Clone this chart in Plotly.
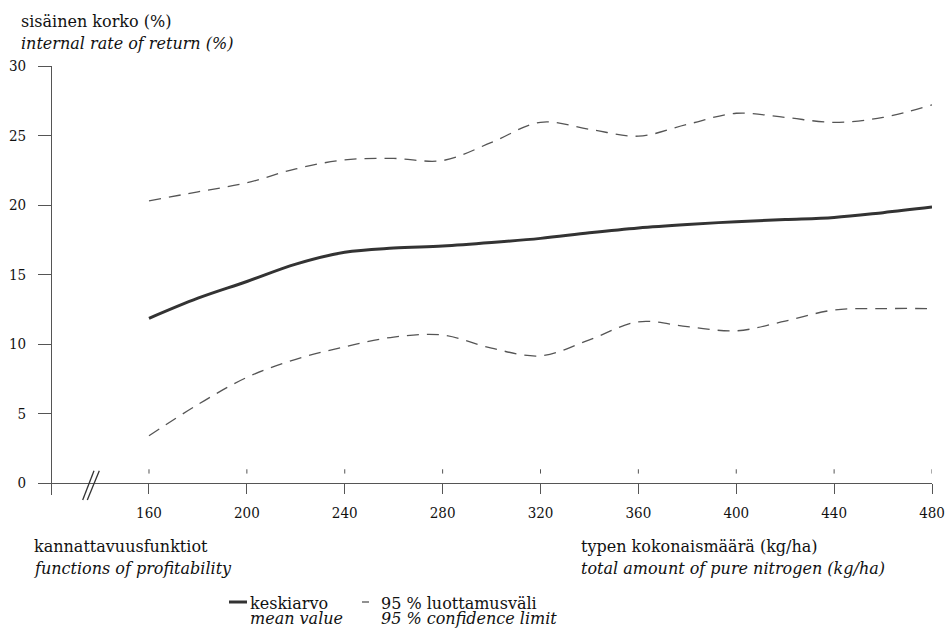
import plotly.graph_objects as go

# ---- data ----
nitrogen = [160, 180, 200, 220, 240, 260, 280, 300, 320, 340, 360, 380, 400, 420, 440, 460, 480]
mean_irr = [11.85, 13.3, 14.5, 15.75, 16.6, 16.9, 17.05, 17.3, 17.6, 18.0, 18.35, 18.6, 18.8, 18.95, 19.1, 19.45, 19.85]
upper_ci = [20.3, 20.95, 21.6, 22.6, 23.25, 23.35, 23.2, 24.5, 25.95, 25.45, 24.95, 25.8, 26.6, 26.3, 25.95, 26.3, 27.2]
lower_ci = [3.4, 5.65, 7.6, 8.9, 9.8, 10.5, 10.65, 9.7, 9.15, 10.3, 11.6, 11.25, 10.95, 11.65, 12.45, 12.55, 12.55]
x_ticks = [160, 200, 240, 280, 320, 360, 400, 440, 480]
y_ticks = [0, 5, 10, 15, 20, 25, 30]

# ---- layout geometry ----
W, H = 948, 630
ML, MR, MT, MB = 38, 16, 66, 135
PW, PH = W - ML - MR, H - MT - MB
XR = [114.64, 480]
YR = [-0.86, 30]

def px(xp):
    return (xp - ML) / PW

def py(yp):
    return (H - MB - yp) / PH

FONT = "DejaVu Serif"
TXT = "#111111"
AX = "#555555"

fig = go.Figure()
fig.add_trace(go.Scatter(x=nitrogen, y=upper_ci, mode="lines", line=dict(color="#555", width=1.3, dash="12px,8px", shape="spline"), showlegend=False))
fig.add_trace(go.Scatter(x=nitrogen, y=lower_ci, mode="lines", line=dict(color="#555", width=1.3, dash="12px,8px", shape="spline"), showlegend=False))
fig.add_trace(go.Scatter(x=nitrogen, y=mean_irr, mode="lines", line=dict(color="#333", width=3, shape="spline"), showlegend=False))

shapes = []
# short marks above the x axis at each tick
for v in x_ticks:
    shapes.append(dict(type="line", xref="x", yref="y", x0=v, x1=v, y0=0.68, y1=0.99, line=dict(color=AX, width=1)))
# axis break mark //
for (xa, xb) in [(82.7, 94.0), (87.3, 99.3)]:
    shapes.append(dict(type="line", xref="paper", yref="paper", x0=px(xa), x1=px(xb), y0=py(500), y1=py(470.7), line=dict(color="#333", width=1.3)))
# legend samples
shapes.append(dict(type="line", xref="paper", yref="paper", x0=px(229), x1=px(247), y0=py(602), y1=py(602), line=dict(color="#333", width=3)))
shapes.append(dict(type="line", xref="paper", yref="paper", x0=px(362), x1=px(369), y0=py(602), y1=py(602), line=dict(color="#555", width=1.3)))

def ann(text, x, y, italic=False):
    t = f"<i>{text}</i>" if italic else text
    return dict(text=t, xref="paper", yref="paper", x=px(x), y=py(y), xanchor="left", yanchor="middle",
                showarrow=False, font=dict(family=FONT, size=16, color=TXT))

annotations = [
    ann("sisäinen korko (%)", 19, 21),
    ann("internal rate of return (%)", 19, 44, True),
    ann("kannattavuusfunktiot", 32, 546),
    ann("functions of profitability", 32, 568.5, True),
    ann("typen kokonaismäärä (kg/ha)", 579, 546),
    ann("total amount of pure nitrogen (kg/ha)", 579, 568.5, True),
    ann("keskiarvo", 248, 603),
    ann("mean value", 248, 618, True),
    ann("95 % luottamusväli", 379, 603),
    ann("95 % confidence limit", 379, 618, True),
]

fig.update_layout(
    width=W, height=H, autosize=False,
    margin=dict(l=ML, r=MR, t=MT, b=MB, autoexpand=False),
    paper_bgcolor="white", plot_bgcolor="white",
    showlegend=False,
    shapes=shapes, annotations=annotations,
    xaxis=dict(range=XR, anchor="free", position=(0 - YR[0]) / (YR[1] - YR[0]), automargin=False,
               showline=True, linecolor=AX, linewidth=1, ticks="outside", ticklen=10, tickcolor=AX,
               tickvals=x_ticks, showgrid=False, zeroline=False, ticklabelstandoff=6,
               tickfont=dict(family="DejaVu Serif Condensed, DejaVu Serif", size=15, color=TXT)),
    yaxis=dict(range=YR, anchor="free", position=(120 - XR[0]) / (XR[1] - XR[0]), automargin=False,
               showline=True, linecolor=AX, linewidth=1, ticks="outside", ticklen=13, tickcolor=AX,
               tickvals=y_ticks, showgrid=False, zeroline=False, ticklabelstandoff=9,
               tickfont=dict(family="DejaVu Serif Condensed, DejaVu Serif", size=15, color=TXT)),
)

fig.write_html("out.html",
               config={"responsive": False, "displayModeBar": False},
               post_script="document.body.style.margin='0';document.body.style.overflow='hidden';")
